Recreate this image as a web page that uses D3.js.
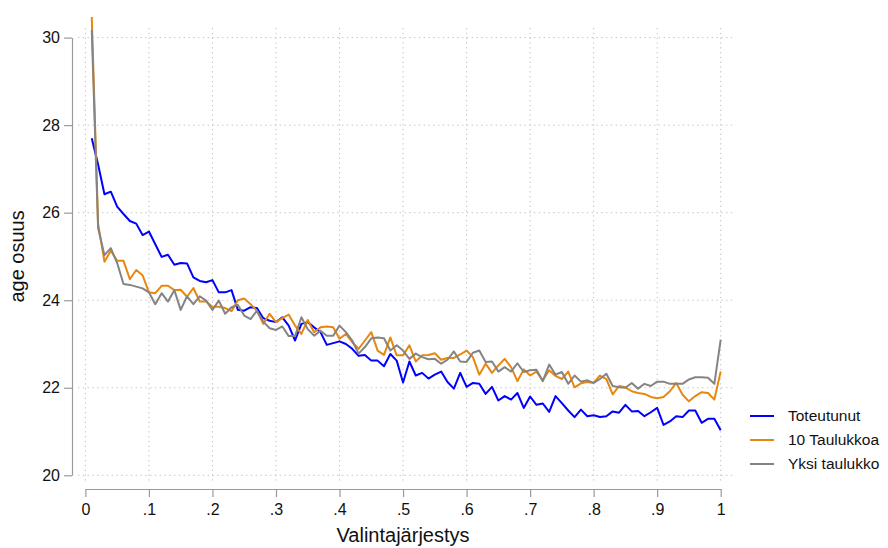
<!DOCTYPE html>
<html>
<head>
<meta charset="utf-8">
<script src="https://cdn.jsdelivr.net/npm/d3@7"></script>
<style>
  html, body { margin: 0; padding: 0; background: #fff; }
  svg { display: block; font-family: "Liberation Sans", Arial, Helvetica, sans-serif; }
</style>
</head>
<body>
<svg id="chart" width="888" height="548"></svg>
<script>
// Selection order (share of picks), 0.01 … 1.00
const order = d3.range(1, 101).map(i => i / 100);

const toteutunut = [
  27.70, 27.10, 26.42, 26.48, 26.14, 25.97, 25.81, 25.75, 25.49, 25.57,
  25.28, 24.99, 25.04, 24.81, 24.85, 24.84, 24.52, 24.44, 24.41, 24.46,
  24.18, 24.18, 24.23, 23.78, 23.76, 23.84, 23.82, 23.59, 23.53, 23.50,
  23.61, 23.42, 23.08, 23.46, 23.50, 23.38, 23.27, 22.98, 23.02, 23.06,
  23.00, 22.89, 22.73, 22.75, 22.62, 22.62, 22.49, 22.77, 22.62, 22.12,
  22.60, 22.28, 22.34, 22.21, 22.30, 22.37, 22.13, 21.98, 22.34, 22.02,
  22.11, 22.09, 21.86, 22.02, 21.71, 21.81, 21.73, 21.88, 21.54, 21.80,
  21.61, 21.64, 21.45, 21.81, 21.65, 21.48, 21.33, 21.50, 21.35, 21.37,
  21.33, 21.35, 21.46, 21.43, 21.61, 21.46, 21.47, 21.35, 21.44, 21.54,
  21.15, 21.23, 21.35, 21.33, 21.48, 21.48, 21.20, 21.29, 21.29, 21.03
];

const kymmenenTaulukkoa = [
  30.47, 25.75, 24.88, 25.13, 24.90, 24.90, 24.48, 24.69, 24.57, 24.18,
  24.16, 24.33, 24.33, 24.23, 24.24, 24.08, 24.28, 23.97, 23.97, 23.85,
  23.85, 23.82, 23.75, 24.00, 24.04, 23.91, 23.76, 23.46, 23.69, 23.50,
  23.59, 23.67, 23.42, 23.23, 23.55, 23.27, 23.38, 23.40, 23.38, 23.12,
  23.23, 23.04, 22.89, 23.08, 23.27, 22.85, 22.75, 23.15, 22.74, 22.74,
  22.97, 22.60, 22.74, 22.75, 22.79, 22.64, 22.68, 22.68, 22.76, 22.85,
  22.70, 22.30, 22.55, 22.34, 22.51, 22.66, 22.47, 22.15, 22.42, 22.28,
  22.37, 22.17, 22.40, 22.27, 22.20, 22.37, 22.01, 22.10, 22.13, 22.11,
  22.28, 22.20, 21.85, 22.04, 22.01, 21.92, 21.88, 21.86, 21.79, 21.76,
  21.79, 21.92, 22.11, 21.84, 21.69, 21.81, 21.90, 21.88, 21.73, 22.37
];

const yksiTaulukko = [
  30.18, 25.65, 25.03, 25.19, 24.85, 24.37, 24.35, 24.31, 24.27, 24.18,
  23.91, 24.16, 23.97, 24.23, 23.78, 24.09, 23.91, 24.09, 23.99, 23.78,
  23.99, 23.69, 23.84, 23.89, 23.65, 23.57, 23.76, 23.51, 23.36, 23.32,
  23.40, 23.18, 23.18, 23.61, 23.34, 23.19, 23.30, 23.19, 23.19, 23.42,
  23.27, 23.08, 22.78, 22.93, 23.13, 23.15, 23.13, 22.85, 22.97, 22.85,
  22.66, 22.78, 22.70, 22.65, 22.66, 22.55, 22.64, 22.83, 22.60, 22.59,
  22.80, 22.85, 22.59, 22.60, 22.37, 22.47, 22.37, 22.56, 22.36, 22.40,
  22.41, 22.15, 22.53, 22.30, 22.36, 22.09, 22.28, 22.14, 22.17, 22.11,
  22.20, 22.32, 22.04, 22.01, 22.00, 22.11, 21.98, 22.09, 22.04, 22.14,
  22.14, 22.09, 22.09, 22.09, 22.19, 22.24, 22.24, 22.23, 22.09, 23.10
];

const seriesNames = ["Toteutunut", "10 Taulukkoa", "Yksi taulukko"];
const seriesColors = ["#0000ff", "#e8870f", "#848484"];

const xTicks = d3.range(0, 11).map(i => i / 10);
const xTickLabels = ["0", ".1", ".2", ".3", ".4", ".5", ".6", ".7", ".8", ".9", "1"];
const yTicks = [20, 22, 24, 26, 28, 30];
const yTickLabels = ["20", "22", "24", "26", "28", "30"];

const xTitle = "Valintajärjestys";
const yTitle = "age osuus";

// ---- layout ----
const svg = d3.select("#chart");
const x = d3.scaleLinear().domain([0, 1]).range([85.4, 720.7]);
const y = d3.scaleLinear().domain([20, 30]).range([475.3, 37.6]);

const plotLeft = 78, plotRight = 733, plotTop = 28, plotBottom = 482;
const axisColor = "#9a9a9a";
const gridColor = "#c4c4c4";

// grid
const grid = svg.append("g");
grid.selectAll("line.h").data(yTicks).join("line")
  .attr("x1", plotLeft).attr("x2", plotRight)
  .attr("y1", d => y(d)).attr("y2", d => y(d))
  .attr("stroke", gridColor).attr("stroke-width", 1)
  .attr("stroke-dasharray", "1.4,3.4");
grid.selectAll("line.v").data(xTicks).join("line")
  .attr("y1", plotTop).attr("y2", plotBottom)
  .attr("x1", d => x(d)).attr("x2", d => x(d))
  .attr("stroke", gridColor).attr("stroke-width", 1)
  .attr("stroke-dasharray", "1.4,3.4");

// y axis
const yAxis = svg.append("g")
  .attr("transform", "translate(72,0)")
  .call(d3.axisLeft(y).tickValues(yTicks)
    .tickFormat((d, i) => yTickLabels[i]).tickSize(8).tickPadding(4).tickSizeOuter(0));
yAxis.select(".domain").attr("stroke", axisColor).attr("stroke-width", 1.2);
yAxis.selectAll(".tick line").attr("stroke", axisColor).attr("stroke-width", 1.2);
yAxis.selectAll(".tick text")
  .attr("font-size", 16).attr("fill", "#111")
  .attr("font-family", "Liberation Sans, Arial, sans-serif");

// x axis
const xAxis = svg.append("g")
  .attr("transform", "translate(0,489)")
  .call(d3.axisBottom(x).tickValues(xTicks)
    .tickFormat((d, i) => xTickLabels[i]).tickSize(8).tickPadding(7).tickSizeOuter(0));
xAxis.select(".domain").attr("stroke", axisColor).attr("stroke-width", 1.2);
xAxis.selectAll(".tick line").attr("stroke", axisColor).attr("stroke-width", 1.2);
xAxis.selectAll(".tick text")
  .attr("font-size", 16).attr("fill", "#111")
  .attr("font-family", "Liberation Sans, Arial, sans-serif");

// titles
svg.append("text")
  .attr("x", 403).attr("y", 542)
  .attr("text-anchor", "middle")
  .attr("font-size", 20).attr("fill", "#111")
  .text(xTitle);
svg.append("text")
  .attr("transform", `translate(24,${(y(20) + y(30)) / 2}) rotate(-90)`)
  .attr("text-anchor", "middle")
  .attr("font-size", 20).attr("fill", "#111")
  .text(yTitle);

// series
const allSeries = [toteutunut, kymmenenTaulukkoa, yksiTaulukko];
const line = d3.line()
  .x((d, i) => x(order[i]))
  .y(d => y(d));

svg.append("g").selectAll("path").data(allSeries).join("path")
  .attr("d", d => line(d))
  .attr("fill", "none")
  .attr("stroke", (d, i) => seriesColors[i])
  .attr("stroke-width", 2)
  .attr("stroke-linejoin", "round");

// legend
const legend = svg.append("g");
const legendY = [416, 440, 464];
seriesNames.forEach((name, i) => {
  legend.append("line")
    .attr("x1", 750).attr("x2", 774)
    .attr("y1", legendY[i]).attr("y2", legendY[i])
    .attr("stroke", seriesColors[i]).attr("stroke-width", 2);
  legend.append("text")
    .attr("x", 788).attr("y", legendY[i])
    .attr("dy", "0.35em")
    .attr("font-size", 15.5).attr("fill", "#111")
    .text(name);
});
</script>
</body>
</html>
